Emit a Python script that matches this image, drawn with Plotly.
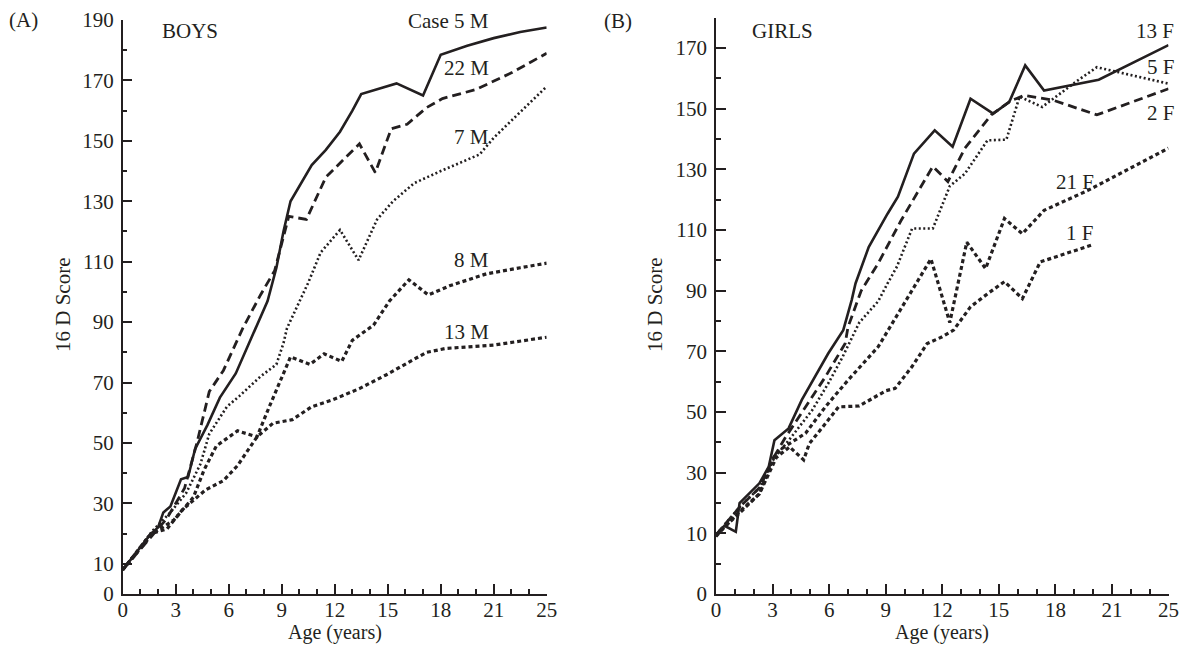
import plotly.graph_objects as go

# ---------------- data (x = axis position in years; last tick labelled "25") ----------------
boys_5M_age = [0, 0.8, 1.6, 2.0, 2.3, 2.7, 3.3, 3.7, 4.1, 4.8, 5.5, 6.4, 7.0, 7.5, 8.2, 8.7, 9.1, 9.5, 10.0, 10.7, 11.5, 12.3, 13.0, 13.5, 15.5, 17.0, 18.0, 19.5, 21.0, 22.5, 24]
boys_5M_val = [8, 14, 20, 22, 27, 29, 38, 38.7, 48, 56, 65, 73, 81, 88, 97, 108, 120, 130, 135, 142, 147, 153, 160, 165.5, 169, 165, 178.5, 181.5, 184, 186, 187.5]

boys_22M_age = [0, 1.5, 2.5, 3.5, 4.2, 4.9, 5.7, 6.8, 7.8, 8.6, 9.1, 9.4, 10.4, 11.5, 13.4, 14.3, 15.2, 16.1, 17.2, 18.1, 20, 22, 24]
boys_22M_val = [8, 18, 25, 35, 50, 67, 74, 88, 99, 107, 118, 125, 124, 138, 149, 139.5, 154, 155.5, 161, 164, 167, 172.5, 179]

boys_7M_age = [0, 1.7, 2.7, 3.6, 4.4, 4.9, 5.9, 6.6, 7.8, 8.7, 9.1, 9.3, 9.7, 10.5, 11.2, 12.3, 13.35, 14.4, 15.3, 16.5, 18, 20.2, 21, 24]
boys_7M_val = [8, 21, 27, 33.5, 43, 53, 62, 65.5, 72, 76, 83, 88, 93, 103, 113, 120.5, 110.5, 124, 130, 136, 140, 145.5, 151, 168]

boys_8M_age = [0, 1.7, 2.9, 4.0, 4.6, 5.3, 6.5, 7.6, 8.3, 8.9, 9.5, 10.6, 11.4, 12.4, 13.0, 14.2, 15.1, 16.2, 17.3, 18.5, 20.6, 22.5, 24]
boys_8M_val = [8, 20, 24.5, 32, 41, 49, 54, 52, 62, 70, 78.5, 76, 79.5, 77, 84, 89, 97, 104, 99, 102, 106, 108, 109.5]

boys_13M_age = [0, 1.6, 2.5, 3.4, 3.9, 4.7, 5.7, 6.5, 7.6, 8.5, 9.6, 10.7, 11.9, 13.4, 14.9, 16.0, 17.2, 18.3, 21, 24]
boys_13M_val = [8, 20, 21.5, 28, 30.5, 34.5, 37.5, 42.5, 52, 56.5, 57.7, 62, 64.3, 68, 72.5, 76, 80, 81.3, 82.4, 85]

girls_13F_age = [0, 0.45, 1.05, 1.25, 2.3, 2.8, 3.1, 3.85, 4.55, 5.25, 5.95, 6.75, 7.2, 7.4, 8.1, 9.1, 9.65, 10.5, 11.6, 12.55, 13.5, 14.7, 15.55, 16.4, 17.4, 20.3, 24]
girls_13F_val = [9, 12.5, 10.5, 20, 26.5, 32, 40.7, 44.6, 54, 61.6, 69.3, 77, 87, 92.4, 104.4, 115.4, 121, 135.2, 142.9, 137.5, 153.3, 148.4, 152.2, 164.3, 156, 159.6, 171]

girls_2F_age = [0, 1.3, 2.3, 3.05, 3.7, 4.75, 5.8, 6.85, 7.0, 7.7, 8.6, 9.8, 11.5, 12.3, 13.2, 14.6, 15.65, 16.35, 17.9, 20.2, 24]
girls_2F_val = [9.5, 19, 25, 35, 41.8, 51.7, 61.6, 72.6, 78, 90, 99, 113, 131, 126, 137, 148, 152.7, 154.4, 152.8, 148, 156.6]

girls_5F_age = [0, 1.3, 2.3, 3.1, 3.9, 5.1, 5.95, 6.7, 7.6, 8.6, 9.1, 9.6, 10.4, 11.5, 12.4, 13.2, 14.4, 15.4, 16.1, 17.3, 19.2, 20.2, 24]
girls_5F_val = [9.5, 19, 25, 35, 41, 50.6, 59.4, 68, 79.5, 86.5, 92.4, 98, 110.5, 110.5, 124.5, 128.6, 139.6, 139.8, 154, 150.6, 159.4, 163.7, 158.3]

girls_21F_age = [0, 0.6, 1.3, 2.3, 3.05, 3.5, 4.75, 5.8, 7.0, 8.6, 10.0, 11.4, 12.4, 13.3, 14.3, 15.3, 16.25, 17.4, 19.7, 24]
girls_21F_val = [9, 13, 17, 23, 35, 38, 43, 51.7, 60.5, 71.5, 86, 100.5, 79.5, 106, 97.3, 113.8, 108.8, 116.5, 123, 137]

girls_1F_age = [0, 0.6, 1.3, 2.3, 3.2, 3.9, 4.65, 4.95, 5.65, 6.5, 7.6, 8.3, 9.0, 9.5, 10.4, 11.2, 12.0, 12.6, 13.5, 14.4, 15.3, 16.25, 17.2, 19.9]
girls_1F_val = [9.5, 13, 17.5, 23, 35, 38.5, 34.2, 39.6, 45, 51.7, 52, 54.5, 57, 57.8, 65, 72.6, 74.8, 77, 84.7, 89, 93, 87.4, 99.5, 105]

x_tickvals = [0, 3, 6, 9, 12, 15, 18, 21, 24]
x_ticktext = ["0", "3", "6", "9", "12", "15", "18", "21", "25"]
boys_y_tickvals = [0, 10, 30, 50, 70, 90, 110, 130, 150, 170, 190]
boys_y_ticktext = [str(v) for v in boys_y_tickvals]
girls_y_tickvals = [-10, 10, 30, 50, 70, 90, 110, 130, 150, 170]
girls_y_ticktext = ["0", "10", "30", "50", "70", "90", "110", "130", "150", "170"]

# ---------------- styling ----------------
INK = "#231f20"
FONT = "Liberation Serif, Times New Roman, serif"
FS = 21
PAGE_OFF = 8            # default body margin of the page
W, H = 1187 - 2 * PAGE_OFF, 654 - 2 * PAGE_OFF

STYLES = {
    "solid": dict(width=2.6, dash="solid"),
    "long": dict(width=2.8, dash="9px,5px"),
    "dot": dict(width=2.6, dash="2px,2.5px"),
    "short": dict(width=3.2, dash="4px,3px"),
}

fig = go.Figure()

def add(x, y, style, xa, ya, name):
    fig.add_trace(go.Scatter(x=x, y=y, mode="lines", name=name, xaxis=xa, yaxis=ya,
                             line=dict(color=INK, **STYLES[style]), showlegend=False,
                             hoverinfo="x+y+name"))

add(boys_13M_age, boys_13M_val, "short", "x", "y", "13 M")
add(boys_8M_age, boys_8M_val, "short", "x", "y", "8 M")
add(boys_7M_age, boys_7M_val, "dot", "x", "y", "7 M")
add(boys_22M_age, boys_22M_val, "long", "x", "y", "22 M")
add(boys_5M_age, boys_5M_val, "solid", "x", "y", "Case 5 M")

add(girls_1F_age, girls_1F_val, "short", "x2", "y2", "1 F")
add(girls_21F_age, girls_21F_val, "short", "x2", "y2", "21 F")
add(girls_5F_age, girls_5F_val, "dot", "x2", "y2", "5 F")
add(girls_2F_age, girls_2F_val, "long", "x2", "y2", "2 F")
add(girls_13F_age, girls_13F_val, "solid", "x2", "y2", "13 F")

def px(x, y):
    """page pixel -> paper fraction"""
    return (x - PAGE_OFF) / W, 1 - (y - PAGE_OFF) / H

lx0, _ = px(122.7, 0); lx1, _ = px(546.7, 0)
rx0, _ = px(716, 0); rx1, _ = px(1168.5, 0)
_, yb = px(0, 594)
_, yt_left = px(0, 20.0)
_, yt_right = px(0, 17.8)

axis_common = dict(showline=True, linecolor=INK, linewidth=1.5, showgrid=False, zeroline=False,
                   automargin=False, ticklabeloverflow="allow",
                   ticks="inside", ticklen=10, tickwidth=1.5, tickcolor=INK,
                   tickfont=dict(family=FONT, size=FS, color=INK), tickmode="array")

xa = dict(axis_common, range=[0, 24], tickvals=x_tickvals, ticktext=x_ticktext,
          ticklabelstandoff=-4,
          minor=dict(tickmode="linear", tick0=0, dtick=1, ticks="inside", ticklen=5,
                     tickwidth=1.5, tickcolor=INK))

ymin = dict(tickmode="linear", tick0=0, dtick=20, ticks="inside", ticklen=5,
            tickwidth=1.5, tickcolor=INK)

fig.update_layout(
    template="none",
    width=W, height=H, margin=dict(l=0, r=0, t=0, b=0, pad=0, autoexpand=False),
    paper_bgcolor="white", plot_bgcolor="white",
    font=dict(family=FONT, size=FS, color=INK),
    xaxis=dict(xa, domain=[lx0, lx1], anchor="y"),
    xaxis2=dict(xa, domain=[rx0, rx1], anchor="y2"),
    yaxis=dict(axis_common, domain=[yb, yt_left], anchor="x", range=[0, 190],
               tickvals=boys_y_tickvals, ticktext=boys_y_ticktext,
               ticklabelstandoff=3, minor=ymin),
    yaxis2=dict(axis_common, domain=[yb, yt_right], anchor="x2", range=[-10, 180],
                tickvals=girls_y_tickvals, ticktext=girls_y_ticktext,
                ticklabelstandoff=3, minor=ymin),
)

def label(text, x, y, xanchor="center", yanchor="middle", angle=0, size=FS):
    ax_, ay_ = px(x, y)
    fig.add_annotation(text=text, x=ax_, y=ay_, xref="paper", yref="paper",
                       xanchor=xanchor, yanchor=yanchor, showarrow=False, textangle=angle,
                       font=dict(family=FONT, size=size, color=INK))

label("(A)", 23, 20)
label("(B)", 618, 21)
label("BOYS", 190, 31)
label("GIRLS", 782, 31)
label("16 D Score", 63, 305, angle=-90)
label("16 D Score", 655, 305, angle=-90)
label("Age (years)", 335, 646, yanchor="bottom", size=20)
label("Age (years)", 942, 646, yanchor="bottom", size=20)

label("Case 5 M", 491, 21, xanchor="right")
label("22 M", 491, 68, xanchor="right")
label("7 M", 491, 137, xanchor="right")
label("8 M", 491, 260, xanchor="right")
label("13 M", 491, 332, xanchor="right")

label("13 F", 1176, 31, xanchor="right")
label("5 F", 1176, 67, xanchor="right")
label("2 F", 1176, 113, xanchor="right")
label("21 F", 1096, 182, xanchor="right")
label("1 F", 1095, 233, xanchor="right")

fig.write_html("out.html")
